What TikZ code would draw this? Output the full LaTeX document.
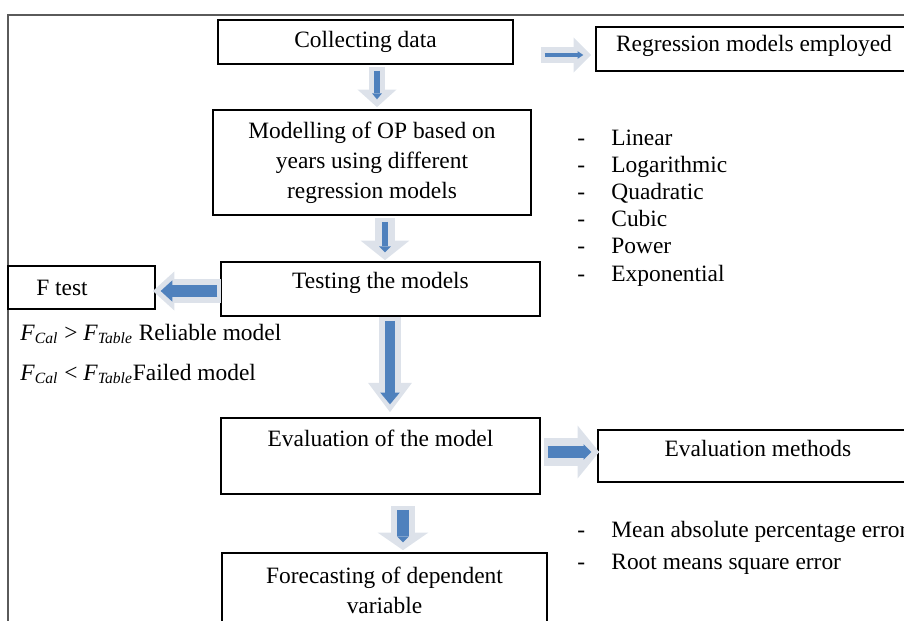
\documentclass[tikz,border=0pt]{standalone}
\usepackage{fontspec}
\setmainfont{Liberation Serif}
\usetikzlibrary{arrows.meta, positioning, calc}
\definecolor{arrowblue}{HTML}{4F81BD}
\definecolor{arrowpale}{HTML}{DDE2EA}
\definecolor{framegrey}{HTML}{5A5A5A}
\tikzset{
  box/.style={draw, line width=0.9pt, inner sep=0pt, align=center},
  listtext/.style={anchor=base west, inner sep=0pt},
  fatarrow/.style n args={6}{draw=arrowpale, line width=#1,
    -{Triangle[width=#2, length=#3, line width=0pt]},
    postaction={draw=arrowblue, line width=#4,
      -{Triangle[width=#5, length=#6, line width=0pt]},
      shorten >=4pt, shorten <=2pt}}
}
\begin{document}
\begin{tikzpicture}[x=0.018cm, y=-0.018cm, font=\fontsize{12pt}{15.3pt}\selectfont]
    \clip (0,0) rectangle (904,621);
    % frame
    \draw[framegrey, line width=0.8pt] (8,660) -- (8,15) -- (930,15);
    % boxes
    \node[box, minimum width=5.31cm, minimum height=0.792cm] (collect) at (365.5,42) {Collecting data};
    \node[box, minimum width=5.688cm, minimum height=0.792cm,
          label={[yshift=1.5pt]center:Regression models employed}] (regbox) at (754,49) {};
    \node[box, minimum width=5.724cm, minimum height=1.89cm] (model) at (372,162.5)
         {Modelling of OP based on\\ years using different\\ regression models};
    \node[box, minimum width=5.742cm, minimum height=0.972cm,
          label={[yshift=3pt]center:Testing the models}] (testbox) at (380.5,289) {};
    \node[box, minimum width=2.646cm, minimum height=0.774cm,
          label={[xshift=-10pt]center:F test}] (ftest) at (81.5,287.5) {};
    \node[box, minimum width=5.742cm, minimum height=1.368cm,
          label={[yshift=9.2pt]center:Evaluation of the model}] (evalbox) at (380.5,456) {};
    \node[box, minimum width=5.652cm, minimum height=0.936cm,
          label={[yshift=3.6pt, xshift=1.5pt]center:Evaluation methods}] (evalmeth) at (755,456) {};
    \node[box, minimum width=5.85cm, minimum height=1.746cm,
          label={[yshift=5.9pt, align=center]center:Forecasting of dependent\\ variable}] (forecast) at (384.5,601.5) {};
    % regression models list
    \foreach \t [count=\i] in {Linear, Logarithmic, Quadratic, Cubic, Power, Exponential} {
      \node[listtext] (regdash\i) at (577,{145+27.2*(\i-1)}) {-};
      \node[listtext] (regitem\i) at (611,{145+27.2*(\i-1)}) {\t};
    }
    % evaluation methods list
    \foreach \t [count=\i] in {Mean absolute percentage error, Root means square error} {
      \node[listtext] (evdash\i) at (577,{537+32*(\i-1)}) {-};
      \node[listtext] (evitem\i) at (611,{537+32*(\i-1)}) {\t};
    }
    % F test results
    \node[listtext] (fgreater) at (20,340)
         {\textit{F}\textsubscript{\textit{Cal}} > \textit{F}\textsubscript{\textit{Table}} Reliable model};
    \node[listtext] (fless) at (20,380)
         {\textit{F}\textsubscript{\textit{Cal}} < \textit{F}\textsubscript{\textit{Table}}Failed model};
    % block arrows
    \draw[fatarrow={8pt}{20pt}{9pt}{2.6pt}{5pt}{3pt}]
         ($(collect.south)+(11.5,2)$) -- ($(model.north)+(5,-2)$);
    \draw[fatarrow={8pt}{18pt}{9pt}{1.8pt}{4pt}{3pt}]
         ($(collect.east)+(27,13)$) -- ($(regbox.west)+(-4,6)$);
    \draw[fatarrow={10pt}{25pt}{10pt}{3.5pt}{6pt}{3pt}]
         ($(model.south)+(13,2)$) -- ($(testbox.north)+(4.5,-1)$);
    \draw[fatarrow={12pt}{20pt}{11pt}{6pt}{11pt}{6pt}]
         ($(testbox.west)+(1,2)$) -- ($(ftest.east)+(-3,3.5)$);
    \draw[fatarrow={11pt}{22.5pt}{15pt}{5pt}{10pt}{6pt}]
         ($(testbox.south)+(9.5,0)$) -- ($(evalbox.north)+(9.5,-5)$);
    \draw[fatarrow={14pt}{27pt}{11pt}{6pt}{8pt}{4pt}]
         ($(evalbox.east)+(3,-4)$) -- ($(evalmeth.west)+(2,-4)$);
    \draw[fatarrow={12pt}{26pt}{9pt}{6pt}{6pt}{3pt}]
         ($(evalbox.south)+(22.5,11)$) -- ($(forecast.north)+(18.5,-2)$);
\end{tikzpicture}
\end{document}
